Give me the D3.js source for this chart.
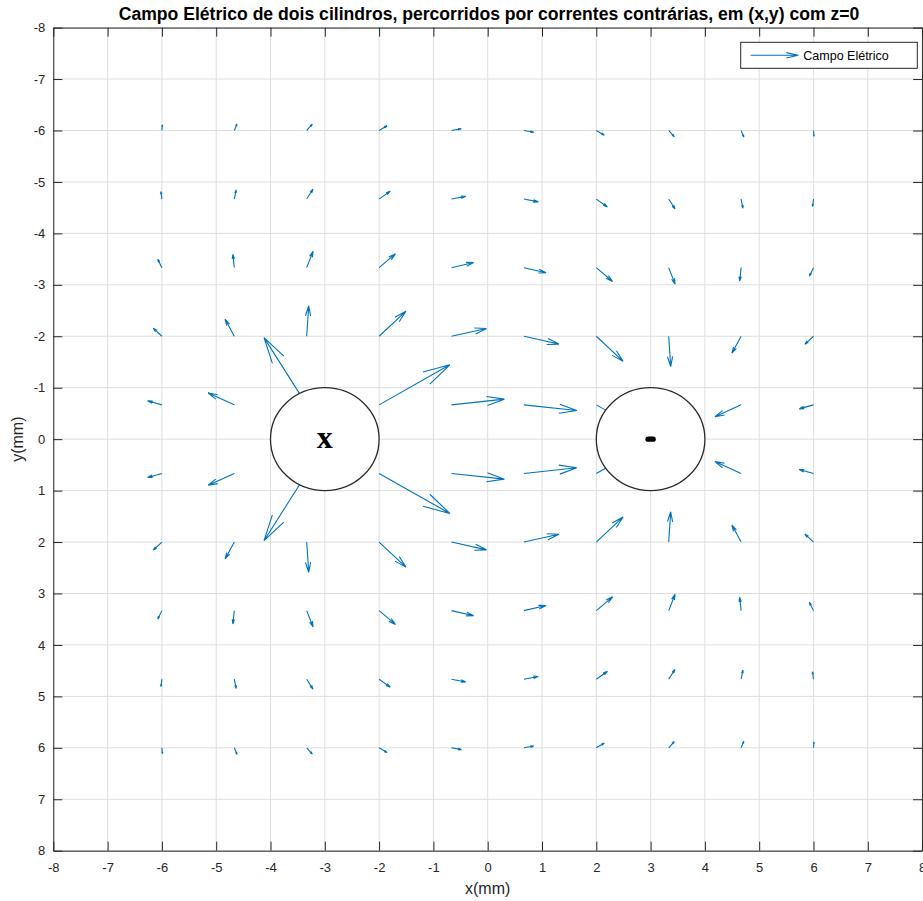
<!DOCTYPE html>
<html><head><meta charset="utf-8">
<script src="https://cdn.jsdelivr.net/npm/d3@7"></script>
<style>body{margin:0;background:#fff}</style>
</head><body>
<svg id="c" width="923" height="901"></svg>
<script>
// grid of arrow origins (mm)
const xs = [-6, -14/3, -10/3, -2, -2/3, 2/3, 2, 10/3, 14/3, 6];
const ys = [-6, -14/3, -10/3, -2, -2/3, 2/3, 2, 10/3, 14/3, 6];
// drawn arrow components (mm), rows follow ys, columns follow xs
const U = [
  [0.009, 0.050, 0.103, 0.147, 0.182, 0.182, 0.147, 0.103, 0.050, 0.009],
  [-0.018, 0.034, 0.116, 0.205, 0.263, 0.263, 0.205, 0.116, 0.034, -0.018],
  [-0.076, -0.026, 0.118, 0.300, 0.408, 0.408, 0.300, 0.118, -0.026, -0.076],
  [-0.159, -0.169, 0.037, 0.494, 0.645, 0.645, 0.494, 0.037, -0.169, -0.159],
  [-0.263, -0.482, -0.786, 1.302, 0.974, 0.974, 1.302, -0.786, -0.482, -0.263],
  [-0.263, -0.482, -0.786, 1.302, 0.974, 0.974, 1.302, -0.786, -0.482, -0.263],
  [-0.159, -0.169, 0.037, 0.494, 0.645, 0.645, 0.494, 0.037, -0.169, -0.159],
  [-0.076, -0.026, 0.118, 0.300, 0.408, 0.408, 0.300, 0.118, -0.026, -0.076],
  [-0.018, 0.034, 0.116, 0.205, 0.263, 0.263, 0.205, 0.116, 0.034, -0.018],
  [0.009, 0.050, 0.103, 0.147, 0.182, 0.182, 0.147, 0.103, 0.050, 0.009]
];
const V = [
  [-0.113, -0.126, -0.122, -0.092, -0.035, 0.035, 0.092, 0.122, 0.126, 0.113],
  [-0.144, -0.179, -0.192, -0.154, -0.054, 0.054, 0.154, 0.192, 0.179, 0.144],
  [-0.165, -0.259, -0.319, -0.268, -0.099, 0.099, 0.268, 0.319, 0.259, 0.165],
  [-0.156, -0.329, -0.589, -0.488, -0.152, 0.152, 0.488, 0.589, 0.329, 0.156],
  [-0.078, -0.230, -1.307, -0.778, -0.111, 0.111, 0.778, 1.307, 0.230, 0.078],
  [0.078, 0.230, 1.307, 0.778, 0.111, -0.111, -0.778, -1.307, -0.230, -0.078],
  [0.156, 0.329, 0.589, 0.488, 0.152, -0.152, -0.488, -0.589, -0.329, -0.156],
  [0.165, 0.259, 0.319, 0.268, 0.099, -0.099, -0.268, -0.319, -0.259, -0.165],
  [0.144, 0.179, 0.192, 0.154, 0.054, -0.054, -0.154, -0.192, -0.179, -0.144],
  [0.113, 0.126, 0.122, 0.092, 0.035, -0.035, -0.092, -0.122, -0.126, -0.113]
];
const cylCenters = [-3, 3];
const cylRadius = 1;
const xTickValues = [-8,-7,-6,-5,-4,-3,-2,-1,0,1,2,3,4,5,6,7,8];
const yTickValues = [-8,-7,-6,-5,-4,-3,-2,-1,0,1,2,3,4,5,6,7,8];
const titleText = "Campo Elétrico de dois cilindros, percorridos por correntes contrárias, em (x,y) com z=0";
const legendText = "Campo Elétrico";

const L = 53.3, R = 922.1, T = 27.6, B = 850.7;
const x = d3.scaleLinear().domain([-8, 8]).range([L, R]);
const y = d3.scaleLinear().domain([-8, 8]).range([T, B]);
const svg = d3.select("#c");
const AX = "#262626", BLUE = "#0072BD";
const font = "'Liberation Sans', Arial, sans-serif";

svg.append("rect").attr("x", L).attr("y", T).attr("width", R - L).attr("height", B - T).attr("fill", "#fff");

// grid
const g = svg.append("g").attr("stroke", "#dedede").attr("stroke-width", 1);
xTickValues.forEach(t => g.append("line").attr("x1", x(t)).attr("x2", x(t)).attr("y1", T).attr("y2", B));
yTickValues.forEach(t => g.append("line").attr("y1", y(t)).attr("y2", y(t)).attr("x1", L).attr("x2", R));

// arrows
const arrows = [];
ys.forEach((yv, j) => xs.forEach((xv, i) => arrows.push({x0: xv, y0: yv, u: U[j][i], v: V[j][i]})));
function arrowPath(px0, py0, px1, py1, back, half) {
  const dx = px1 - px0, dy = py1 - py0, len = Math.hypot(dx, dy);
  if (len === 0) return "";
  const ux = dx / len, uy = dy / len;
  const bl = back === undefined ? 0.33 * len : back;
  const hw = half === undefined ? 0.085 * len : half;
  const bx = px1 - ux * bl, by = py1 - uy * bl;
  return `M${px0},${py0}L${px1},${py1}M${bx - uy * hw},${by + ux * hw}L${px1},${py1}L${bx + uy * hw},${by - ux * hw}`;
}
svg.append("g").selectAll("path").data(arrows).join("path")
  .attr("d", d => arrowPath(x(d.x0), y(d.y0), x(d.x0 + d.u), y(d.y0 + d.v)))
  .attr("fill", "none").attr("stroke", BLUE).attr("stroke-width", 1.1);

// cylinders
svg.append("g").selectAll("ellipse").data(cylCenters).join("ellipse")
  .attr("cx", d => x(d)).attr("cy", y(0))
  .attr("rx", x(cylRadius) - x(0)).attr("ry", y(cylRadius) - y(0))
  .attr("fill", "#fff").attr("stroke", "#2a2a2a").attr("stroke-width", 1.3);
svg.append("text").attr("x", x(cylCenters[0])).attr("y", y(0) + 8.5)
  .attr("text-anchor", "middle").attr("font-family", "'Liberation Serif', 'Times New Roman', serif")
  .attr("font-weight", "bold").attr("font-size", 32).attr("fill", "#000").text("x");
svg.append("rect").attr("x", x(cylCenters[1]) - 5.2).attr("y", y(0) - 2.7).attr("width", 10.4).attr("height", 5.4)
  .attr("rx", 2.7).attr("fill", "#000");

// axes
function styleAxis(sel) {
  sel.select(".domain").attr("stroke", AX);
  sel.selectAll(".tick line").attr("stroke", AX);
  sel.selectAll(".tick text").attr("fill", AX).attr("font-family", font).attr("font-size", 13);
}
svg.append("g").attr("transform", `translate(0,${B})`)
  .call(d3.axisBottom(x).tickValues(xTickValues).tickSizeInner(-9).tickSizeOuter(0).tickPadding(12).tickFormat(d3.format("d")))
  .call(styleAxis);
svg.append("g").attr("transform", `translate(0,${T})`)
  .call(d3.axisTop(x).tickValues(xTickValues).tickSizeInner(-9).tickSizeOuter(0).tickFormat(""))
  .call(styleAxis);
svg.append("g").attr("transform", `translate(${L},0)`)
  .call(d3.axisLeft(y).tickValues(yTickValues).tickSizeInner(-9).tickSizeOuter(0).tickPadding(8).tickFormat(d3.format("d")))
  .call(styleAxis);
svg.append("g").attr("transform", `translate(${R},0)`)
  .call(d3.axisRight(y).tickValues(yTickValues).tickSizeInner(-9).tickSizeOuter(0).tickFormat(""))
  .call(styleAxis);
svg.selectAll(".tick text").text(function() { return this.textContent.replace("−", "-"); });

// labels
svg.append("text").attr("x", 489).attr("y", 19.5).attr("text-anchor", "middle")
  .attr("font-family", font).attr("font-weight", "bold").attr("font-size", 17.6).attr("fill", "#000").text(titleText);
svg.append("text").attr("x", x(0)).attr("y", 894).attr("text-anchor", "middle")
  .attr("font-family", font).attr("font-size", 16).attr("fill", AX).text("x(mm)");
svg.append("text").attr("transform", `translate(23,${y(0)}) rotate(-90)`).attr("text-anchor", "middle")
  .attr("font-family", font).attr("font-size", 16).attr("fill", AX).text("y(mm)");

// legend
const lg = svg.append("g");
lg.append("rect").attr("x", 740.7).attr("y", 42.3).attr("width", 176.6).attr("height", 26).attr("fill", "#fff").attr("stroke", AX).attr("stroke-width", 1);
lg.append("path").attr("d", arrowPath(750.7, 55.3, 798.3, 55.3, 12, 2.7)).attr("fill", "none").attr("stroke", BLUE).attr("stroke-width", 1.1);
lg.append("text").attr("x", 803.3).attr("y", 59.8).attr("font-family", font).attr("font-size", 12.5).attr("fill", "#000").text(legendText);
</script>
</body></html>
